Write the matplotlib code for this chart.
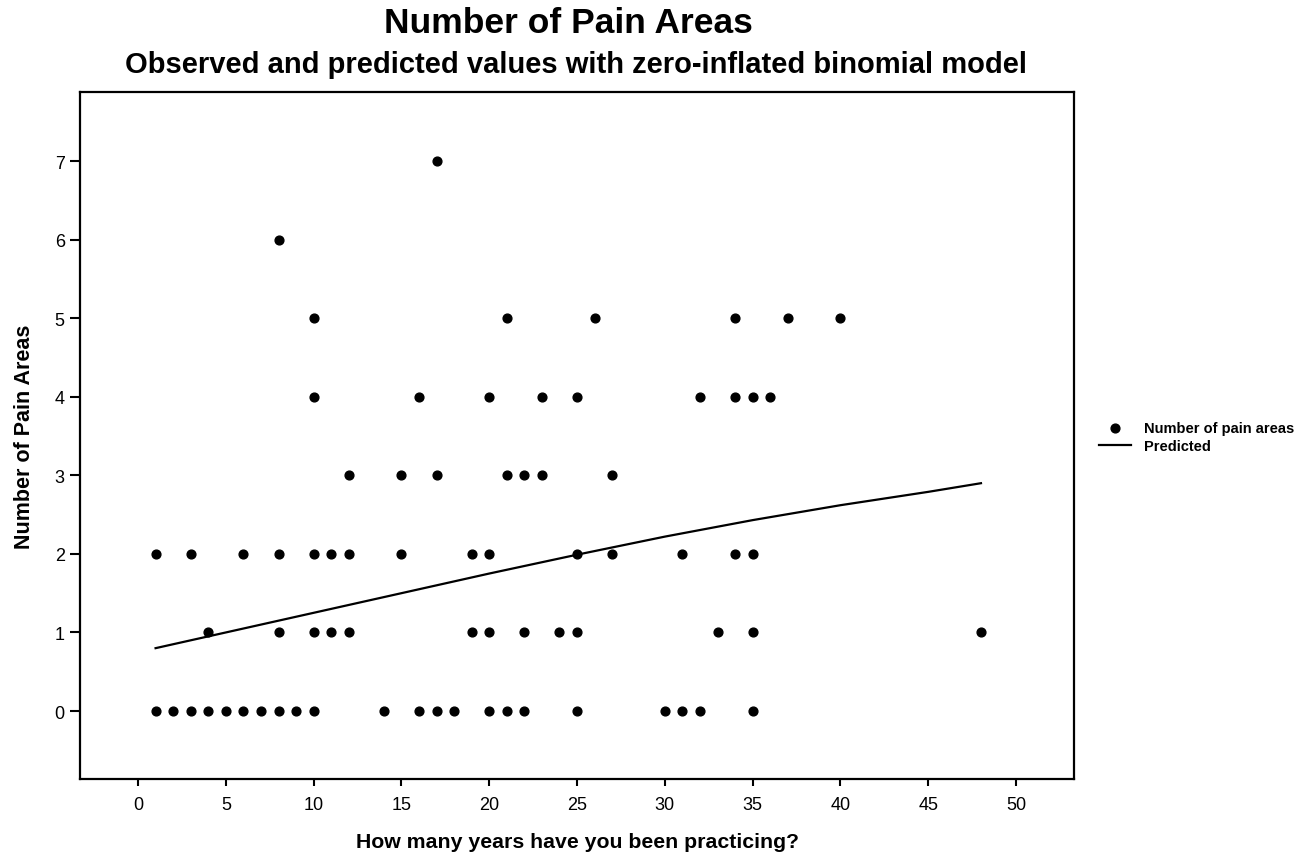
import matplotlib.pyplot as plt
import numpy as np

plt.rcParams['font.family'] = ['Liberation Sans', 'DejaVu Sans']

# observed points: years practicing vs number of pain areas
years = [1, 2, 3, 4, 5, 6, 7, 8, 9, 10, 14, 16, 17, 18, 20, 21, 22, 25, 30, 31, 32, 35,
         4, 8, 10, 11, 12, 19, 20, 22, 24, 25, 33, 35, 48,
         1, 3, 6, 8, 10, 11, 12, 15, 19, 20, 25, 27, 31, 34, 35,
         12, 15, 17, 21, 22, 23, 27,
         10, 16, 20, 23, 25, 32, 34, 35, 36,
         10, 21, 26, 34, 37, 40,
         8,
         17]
pain_areas = [0] * 22 + [1] * 13 + [2] * 15 + [3] * 7 + [4] * 9 + [5] * 6 + [6] + [7]

# predicted curve from zero-inflated binomial model
pred_years = [1, 5, 10, 15, 20, 25, 30, 35, 40, 45, 48]
pred_values = [0.80, 1.00, 1.25, 1.50, 1.75, 1.99, 2.22, 2.43, 2.62, 2.79, 2.90]

fig = plt.figure(figsize=(13.06, 8.54), dpi=100)
ax = fig.add_axes([0.0613, 0.0867, 0.7611, 0.8044])

ax.scatter(years, pain_areas, s=40, color='black', zorder=3, label='Number of pain areas')
ax.plot(pred_years, pred_values, color='black', linewidth=1.6, label='Predicted')

ax.set_xlim(-3.3, 53.3)
ax.set_ylim(-0.865, 7.88)
ax.set_xticks(np.arange(0, 51, 5))
ax.set_yticks(np.arange(0, 8, 1))

for s in ax.spines.values():
    s.set_linewidth(1.6)
ax.tick_params(direction='out', width=1.5, labelsize=13)
ax.tick_params(axis='x', length=5, pad=7)
ax.tick_params(axis='y', length=7, pad=4)

ax.set_xlabel('How many years have you been practicing?', fontsize=15.3, fontweight='bold', labelpad=14)
ax.set_ylabel('Number of Pain Areas', fontsize=15.5, fontweight='bold', labelpad=14)

fig.text(0.435, 0.972, 'Number of Pain Areas', ha='center', va='center', fontsize=25.5, fontweight='bold')
fig.text(0.441, 0.924, 'Observed and predicted values with zero-inflated binomial model',
         ha='center', va='center', fontsize=21, fontweight='bold')

ax.legend(loc='center left', bbox_to_anchor=(1.012, 0.498), frameon=False,
          prop={'size': 10.5, 'weight': 'bold'}, handlelength=2.2, handletextpad=0.9,
          labelspacing=0.25)

plt.savefig('out.png', dpi=100)
